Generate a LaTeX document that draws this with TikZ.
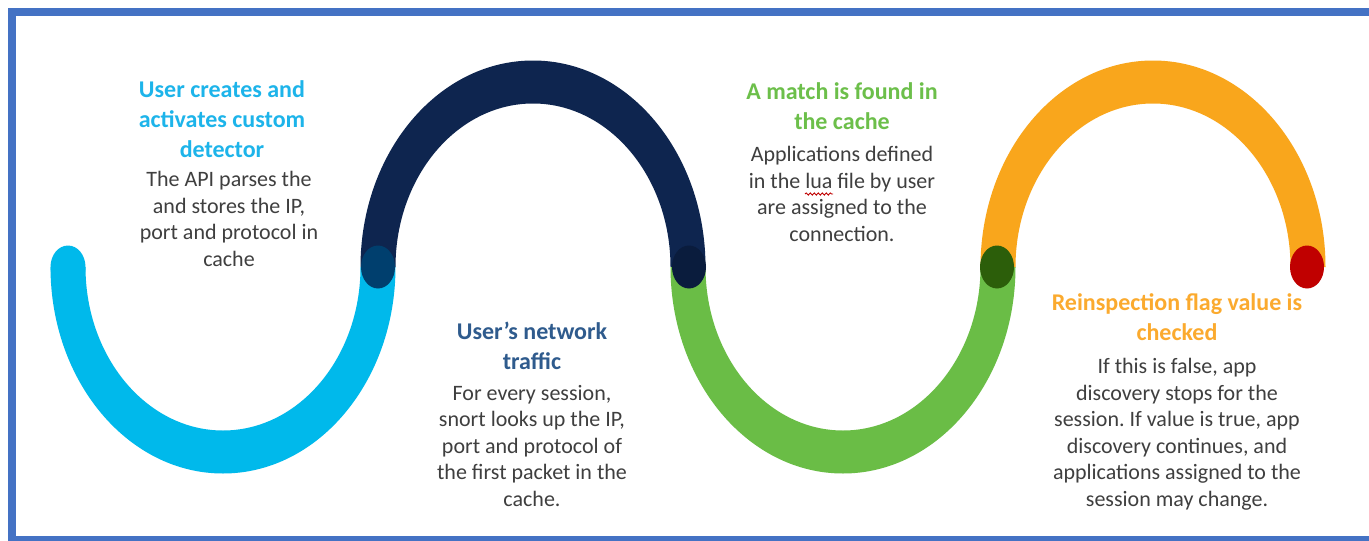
\documentclass[tikz,border=0pt]{standalone}
\usepackage{fontspec}
\setmainfont{Carlito}
\frenchspacing
\usetikzlibrary{decorations.pathmorphing}
\definecolor{frameblue}{HTML}{4472C4}
\definecolor{cLB}{HTML}{00B9EB}
\definecolor{cNavy}{HTML}{0E254F}
\definecolor{cGreen}{HTML}{6ABD46}
\definecolor{cOrange}{HTML}{F9A61C}
\definecolor{dBlue}{HTML}{003F6E}
\definecolor{dNavy}{HTML}{0A1C3D}
\definecolor{dGreen}{HTML}{2C5E0A}
\definecolor{dRed}{HTML}{C00000}
\definecolor{tLB}{HTML}{1DB4EA}
\definecolor{tNavy}{HTML}{2F5B8D}
\definecolor{tGreen}{HTML}{6CBF4A}
\definecolor{tOrange}{HTML}{FBAA2E}
\definecolor{bodygray}{HTML}{3F3F3F}
\begin{document}
\begin{tikzpicture}[x=1pt,y=-1pt,
  titletext/.style={font=\bfseries\fontsize{24}{30}\selectfont, align=center, anchor=base, inner sep=0pt},
  bodytext/.style={font=\fontsize{22}{26.6}\selectfont, align=center, anchor=base, inner sep=0pt, text=bodygray},
  dotmark/.style={x radius=17, y radius=21.5}]
\useasboundingbox (0,0) rectangle (1369,541);
\fill[white] (0,0) rectangle (1369,541);
\draw[frameblue, line width=8pt] (12,12) rectangle (1372.5,540);
% bands
\fill[cLB] (223-172.5,267) arc[start angle=180, end angle=0, x radius=172.5, y radius=206.5]
  -- (223+137.5,267) arc[start angle=0, end angle=180, x radius=137.5, y radius=163.5] -- cycle;
\fill[cLB] (68,267) ellipse[x radius=17.5, y radius=21.5];
\fill[cNavy] (533-172.5,267) arc[start angle=180, end angle=360, x radius=172.5, y radius=206.5]
  -- (533+137.5,267) arc[start angle=360, end angle=180, x radius=137.5, y radius=163.5] -- cycle;
\fill[cGreen] (843-172.5,267) arc[start angle=180, end angle=0, x radius=172.5, y radius=206.5]
  -- (843+137.5,267) arc[start angle=0, end angle=180, x radius=137.5, y radius=163.5] -- cycle;
\fill[cOrange] (1153-172.5,267) arc[start angle=180, end angle=360, x radius=172.5, y radius=206.5]
  -- (1153+137.5,267) arc[start angle=360, end angle=180, x radius=137.5, y radius=163.5] -- cycle;
% dots
\fill[dBlue] (378,267) ellipse[dotmark];
\fill[dNavy] (689,267) ellipse[dotmark];
\fill[dGreen] (997,267) ellipse[dotmark];
\fill[dRed] (1307,267) ellipse[dotmark];
% texts (anchor base = baseline of last line)
\node[titletext, text=tLB] (t1) at (222,157) {User creates and\\activates custom\\detector};
\node[bodytext] (b1) at (229,266.5) {The API parses the\\and stores the IP,\\port and protocol in\\cache};
\node[titletext, text=tNavy] (t2) at (532,369) {User’s network\\traffic};
\node[bodytext] (b2) at (532,506.5) {For every session,\\snort looks up the IP,\\port and protocol of\\the first packet in the\\cache.};
\node[titletext, text=tGreen] (t3) at (842,129) {A match is found in\\the cache};
\node[bodytext] (b3) at (842,241.5) {Applications defined\\in the lua file by user\\are assigned to the\\connection.};
\node[titletext, text=tOrange] (t4) at (1177,340) {Reinspection flag value is\\checked};
\node[bodytext] (b4) at (1177,506.5) {If this is false, app\\discovery stops for the\\session. If value is true, app\\discovery continues, and\\applications assigned to the\\session may change.};
\draw[dRed, line width=0.9pt, decoration={snake, amplitude=1.1pt, segment length=4pt}, decorate] (805,194) -- (833,194);
\end{tikzpicture}
\end{document}
